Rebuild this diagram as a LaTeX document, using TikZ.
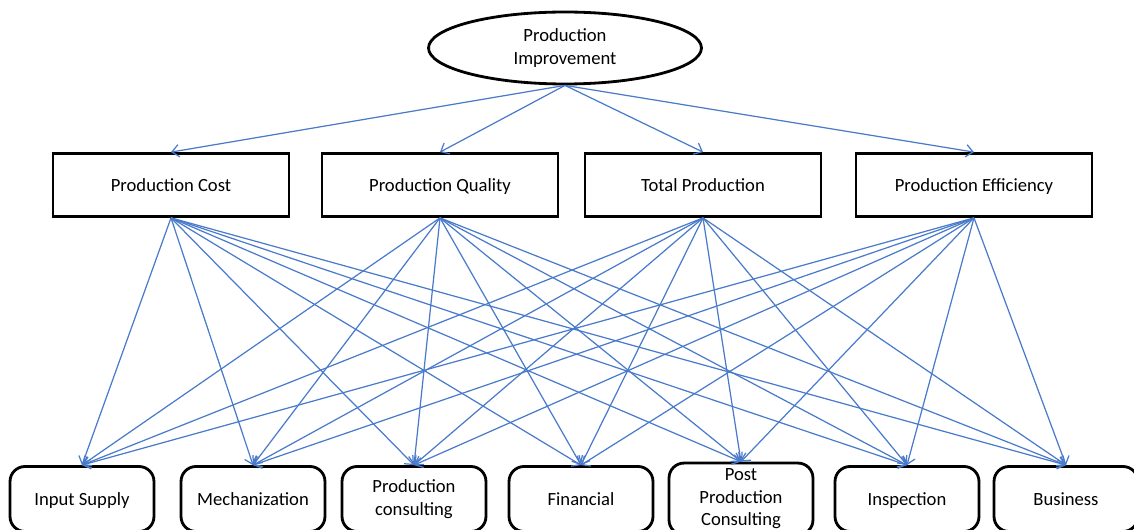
\documentclass[tikz,border=0pt]{standalone}
\usepackage{fontspec}
\setmainfont{Carlito}
\usetikzlibrary{shapes.geometric}
\usetikzlibrary{arrows.meta}
\definecolor{LinkBlue}{HTML}{4A7BCB}

\begin{document}
\begin{tikzpicture}[x=0.02cm,y=-0.02cm,
  every node/.style={font=\fontsize{10.6}{12.8}\selectfont,align=center},
  oneline/.style={text height=2ex,text depth=0.4ex},
  goal/.style={ellipse,draw,line width=1.6pt,minimum width=5.46cm,minimum height=1.44cm,inner sep=0pt},
  factor/.style={rectangle,draw,line width=1.6pt,minimum width=4.72cm,minimum height=1.26cm,oneline},
  service/.style={rectangle,rounded corners=0.3cm,draw,line width=1.6pt,minimum width=2.88cm,minimum height=1.3cm},
  link/.style={draw=LinkBlue,line width=0.7pt,-{Straight Barb[length=4pt,width=7pt]}}]

\clip (0,0) rectangle (1134,530);

% Goal
\node[goal] (improve) at (565,48) {Production\\Improvement};

% Factors
\node[factor] (cost) at (171,185) {Production Cost};
\node[factor] (quality) at (440,185) {Production Quality};
\node[factor] (total) at (703,185) {Total Production};
\node[factor] (efficiency) at (974,185) {Production Efficiency};

% Services
\node[service,oneline] (input) at (82,499) {Input Supply};
\node[service,oneline] (mech) at (253,499) {Mechanization};
\node[service] (consult) at (414,499) {Production\\consulting};
\node[service,oneline] (financial) at (581,499) {Financial};
\node[service] (post) at (741,499) {Post\\Production\\Consulting};
\node[service,oneline] (inspect) at (907,499) {Inspection};
\node[service,oneline] (business) at (1066,499) {Business};

% Links
\foreach \f in {cost,quality,total,efficiency}
  \draw[link] (improve.south) -- (\f.north);
\foreach \f in {cost,quality,total,efficiency}
  \foreach \s in {input,mech,consult,financial,post,inspect,business}
    \draw[link] (\f.south) -- (\s.north);

\end{tikzpicture}
\end{document}
